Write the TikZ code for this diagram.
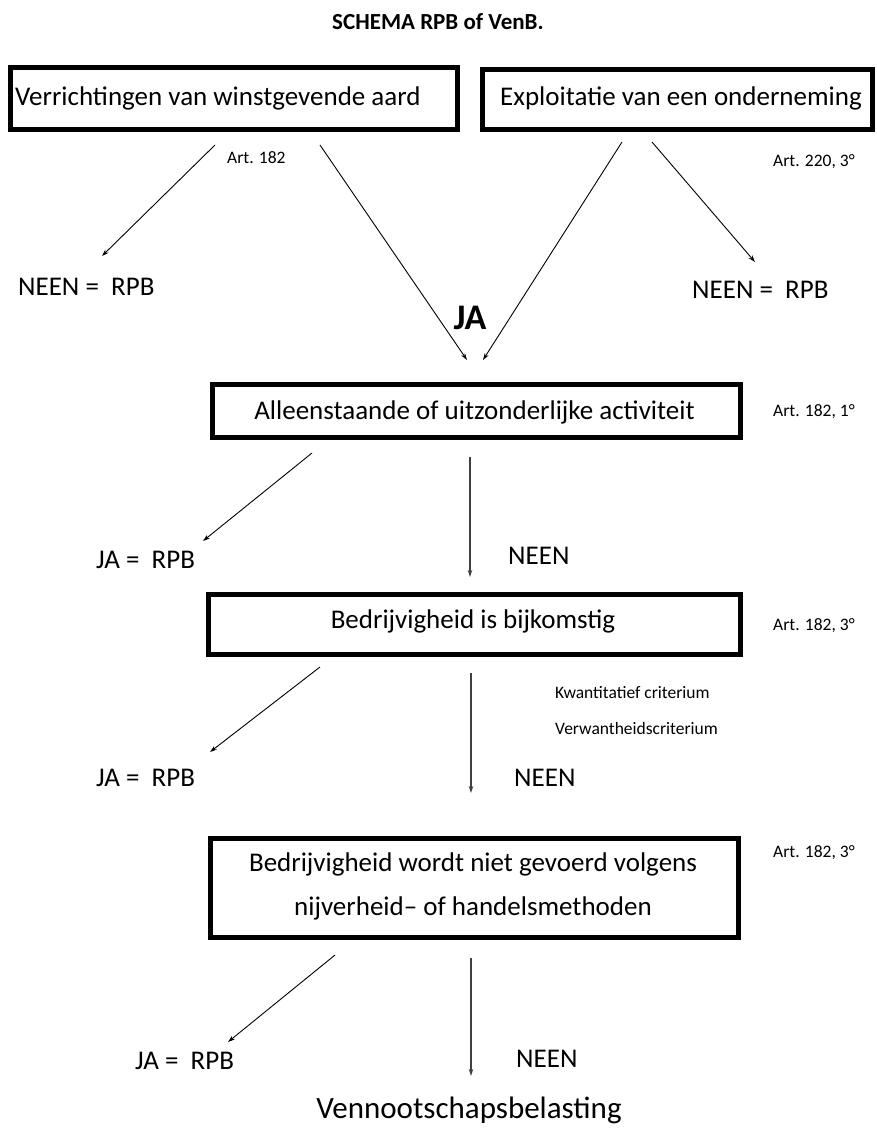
\documentclass[tikz,border=0pt]{standalone}
\usepackage{fontspec}
\setmainfont{Carlito}
\usetikzlibrary{arrows.meta}
\begin{document}
\begin{tikzpicture}[x=1pt,y=-1pt,
  box/.style={draw=black,line width=5pt,rectangle,inner sep=0pt},
  big/.style={inner sep=0pt,font=\fontsize{27}{32}\selectfont},
  small/.style={inner sep=0pt,font=\fontsize{17.5}{20}\selectfont},
  arr/.style={line width=0.9pt,-{Stealth[length=7pt,width=4.5pt]}},
  varr/.style={line width=1.4pt,draw=black!75,-{Stealth[length=7pt,width=4.5pt]}}]
\useasboundingbox (0,0) rectangle (876,1132);

% title
\node[inner sep=0pt,font=\fontsize{23}{28}\selectfont\bfseries,anchor=base] (title) at (438,30) {SCHEMA RPB of VenB.};

% boxes
\node[box,minimum width=447pt,minimum height=62pt] (b1) at (234,98.5) {};
\node[big,anchor=base west] (t1) at (15,105) {Verrichtingen van winstgevende aard};
\node[box,minimum width=389.5pt,minimum height=60pt] (b2) at (677.25,99.5) {};
\node[big,anchor=base west] (t2) at (500,105) {Exploitatie van een onderneming};

\node[box,minimum width=528pt,minimum height=53pt] (b3) at (476.5,411) {};
\node[big] (t3) at (474.5,412) {Alleenstaande of uitzonderlijke activiteit};

\node[box,minimum width=532pt,minimum height=60pt] (b4) at (474,624) {};
\node[big] (t4) at (473,621) {Bedrijvigheid is bijkomstig};

\node[box,minimum width=528pt,minimum height=99pt] (b5) at (474,888) {};
\node[big] (t5a) at (473,864) {Bedrijvigheid wordt niet gevoerd volgens};
\node[big] (t5b) at (473,908) {nijverheid– of handelsmethoden};

% labels
\node[small,anchor=west] (art1) at (227,158) {Art. 182};
\node[small,anchor=west] (art2) at (773,162) {Art. 220, 3°};
\node[small,anchor=west] (art3) at (773,412) {Art. 182, 1°};
\node[small,anchor=west] (art4) at (773,626) {Art. 182, 3°};
\node[small,anchor=west] (art5) at (773,853) {Art. 182, 3°};
\node[small,anchor=west] (kw) at (555,693) {Kwantitatief criterium};
\node[small,anchor=west] (vw) at (555,728) {Verwantheidscriterium};

\node[big,anchor=base west] (n1) at (18,295) {NEEN =\ \ RPB};
\node[big,anchor=base west] (n2) at (692,298) {NEEN =\ \ RPB};
\node[inner sep=0pt,font=\fontsize{36}{40}\selectfont\bfseries] (ja) at (470,318) {JA};

\node[big,anchor=base west] (j3) at (96,568) {JA =\ \ RPB};
\node[big,anchor=base west] (n3) at (508,564) {NEEN};
\node[big,anchor=base west] (j4) at (96,786) {JA =\ \ RPB};
\node[big,anchor=base west] (n4) at (514,786) {NEEN};
\node[big,anchor=base west] (j5) at (135,1069) {JA =\ \ RPB};
\node[big,anchor=base west] (n5) at (516,1067) {NEEN};
\node[inner sep=0pt,font=\fontsize{31}{36}\selectfont,anchor=base] (vb) at (469,1118) {Vennootschapsbelasting};

% connector end points
\coordinate (s1) at (215,145); \coordinate (e1) at (102,256);
\coordinate (s2) at (320,145); \coordinate (e2) at (467,360);
\coordinate (s3) at (622,142); \coordinate (e3) at (483,360);
\coordinate (s4) at (652,142); \coordinate (e4) at (755,262);
\coordinate (s5) at (312,453); \coordinate (e5) at (203,541);
\coordinate (s6) at (470,457); \coordinate (e6) at (470,577);
\coordinate (s7) at (320,667); \coordinate (e7) at (210,752);
\coordinate (s8) at (471,673); \coordinate (e8) at (471,793);
\coordinate (s9) at (335,955); \coordinate (e9) at (228,1042);
\coordinate (s10) at (471,958); \coordinate (e10) at (471,1076);

\draw[arr] (s1) -- (e1);
\draw[arr] (s2) -- (e2);
\draw[arr] (s3) -- (e3);
\draw[arr] (s4) -- (e4);
\draw[arr] (s5) -- (e5);
\draw[varr] (s6) -- (e6);
\draw[arr] (s7) -- (e7);
\draw[varr] (s8) -- (e8);
\draw[arr] (s9) -- (e9);
\draw[varr] (s10) -- (e10);
\end{tikzpicture}
\end{document}
